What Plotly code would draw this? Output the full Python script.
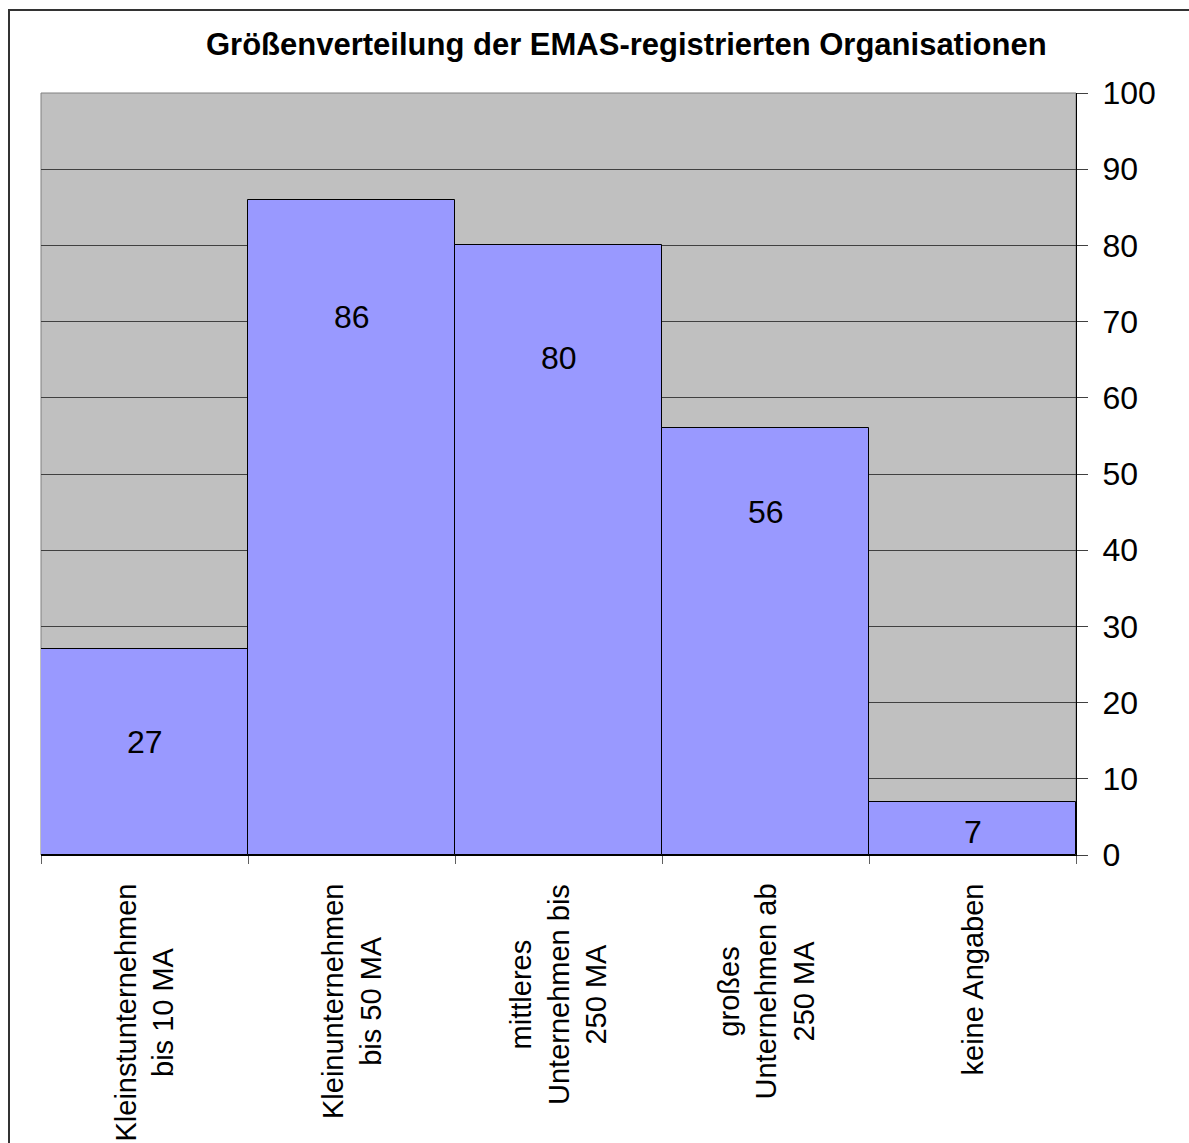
import plotly.graph_objects as go

title = "Größenverteilung der EMAS-registrierten Organisationen"
categories = [
    "Kleinstunternehmen<br>bis 10 MA",
    "Kleinunternehmen<br>bis 50 MA",
    "mittleres<br>Unternehmen bis<br>250 MA",
    "großes<br>Unternehmen ab<br>250 MA",
    "keine Angaben",
]
values = [27, 86, 80, 56, 7]
y_ticks = list(range(0, 101, 10))

# layout settings (label placement in data units, as in the original)
label_y = [14.8, 70.6, 65.2, 45.0, 3.0]

W, H = 1189, 1143
L, R, T, B = 41, 1076, 93, 855
FONT = "Liberation Sans, Arial, sans-serif"

def px_x(p):
    return (p - L) / (R - L)

def px_y(p):
    return (B - p) / (B - T)

fig = go.Figure()
fig.add_trace(go.Bar(
    x=list(range(len(categories))), y=values,
    marker=dict(color="#9999FF", line=dict(color="black", width=1)),
    width=1.0, hoverinfo="skip",
))

annotations = []
for i, (v, ly) in enumerate(zip(values, label_y)):
    annotations.append(dict(x=i, y=ly, xref="x", yref="y", text=str(v),
                            showarrow=False, font=dict(family=FONT, size=32, color="black")))
for i, c in enumerate(categories):
    annotations.append(dict(x=i, y=px_y(882), xref="x", yref="paper", text=c,
                            textangle=-90, showarrow=False, xanchor="center", yanchor="top",
                            font=dict(family=FONT, size=29, color="black")))
annotations.append(dict(x=px_x(626), y=px_y(45), xref="paper", yref="paper", text="<b>" + title + "</b>",
                        showarrow=False, xanchor="center", yanchor="middle",
                        font=dict(family=FONT, size=31, color="black")))

fig.update_layout(
    width=W, height=H,
    margin=dict(l=L, r=W - R, t=T, b=H - B, pad=0),
    paper_bgcolor="white", plot_bgcolor="#C0C0C0",
    showlegend=False, bargap=0,
    annotations=annotations,
    shapes=[
        dict(type="rect", xref="paper", yref="paper", x0=0, x1=1, y0=0, y1=1,
             line=dict(color="#808080", width=1), layer="below"),
        dict(type="rect", xref="paper", yref="paper", x0=px_x(9), x1=px_x(1200), y0=px_y(1160), y1=px_y(10),
             line=dict(color="#333333", width=2)),
    ],
)
fig.update_xaxes(range=[-0.5, len(categories) - 0.5], showticklabels=False,
                 tickmode="array", tickvals=[-0.5 + k for k in range(len(categories) + 1)],
                 ticks="outside", ticklen=8, tickcolor="#606060", tickwidth=1,
                 showgrid=False, showline=True, linecolor="black", linewidth=1, zeroline=False)
fig.update_yaxes(range=[0, 100], side="right", tickvals=y_ticks,
                 ticks="outside", ticklen=11, tickcolor="#404040", tickwidth=1,
                 showgrid=True, gridcolor="#404040", gridwidth=1,
                 showline=True, linecolor="black", linewidth=1, zeroline=False,
                 tickfont=dict(family=FONT, size=32, color="black"), ticklabelstandoff=8)

fig.write_html("out.html", config={"displayModeBar": False},
               post_script="document.body.style.margin='0';")
